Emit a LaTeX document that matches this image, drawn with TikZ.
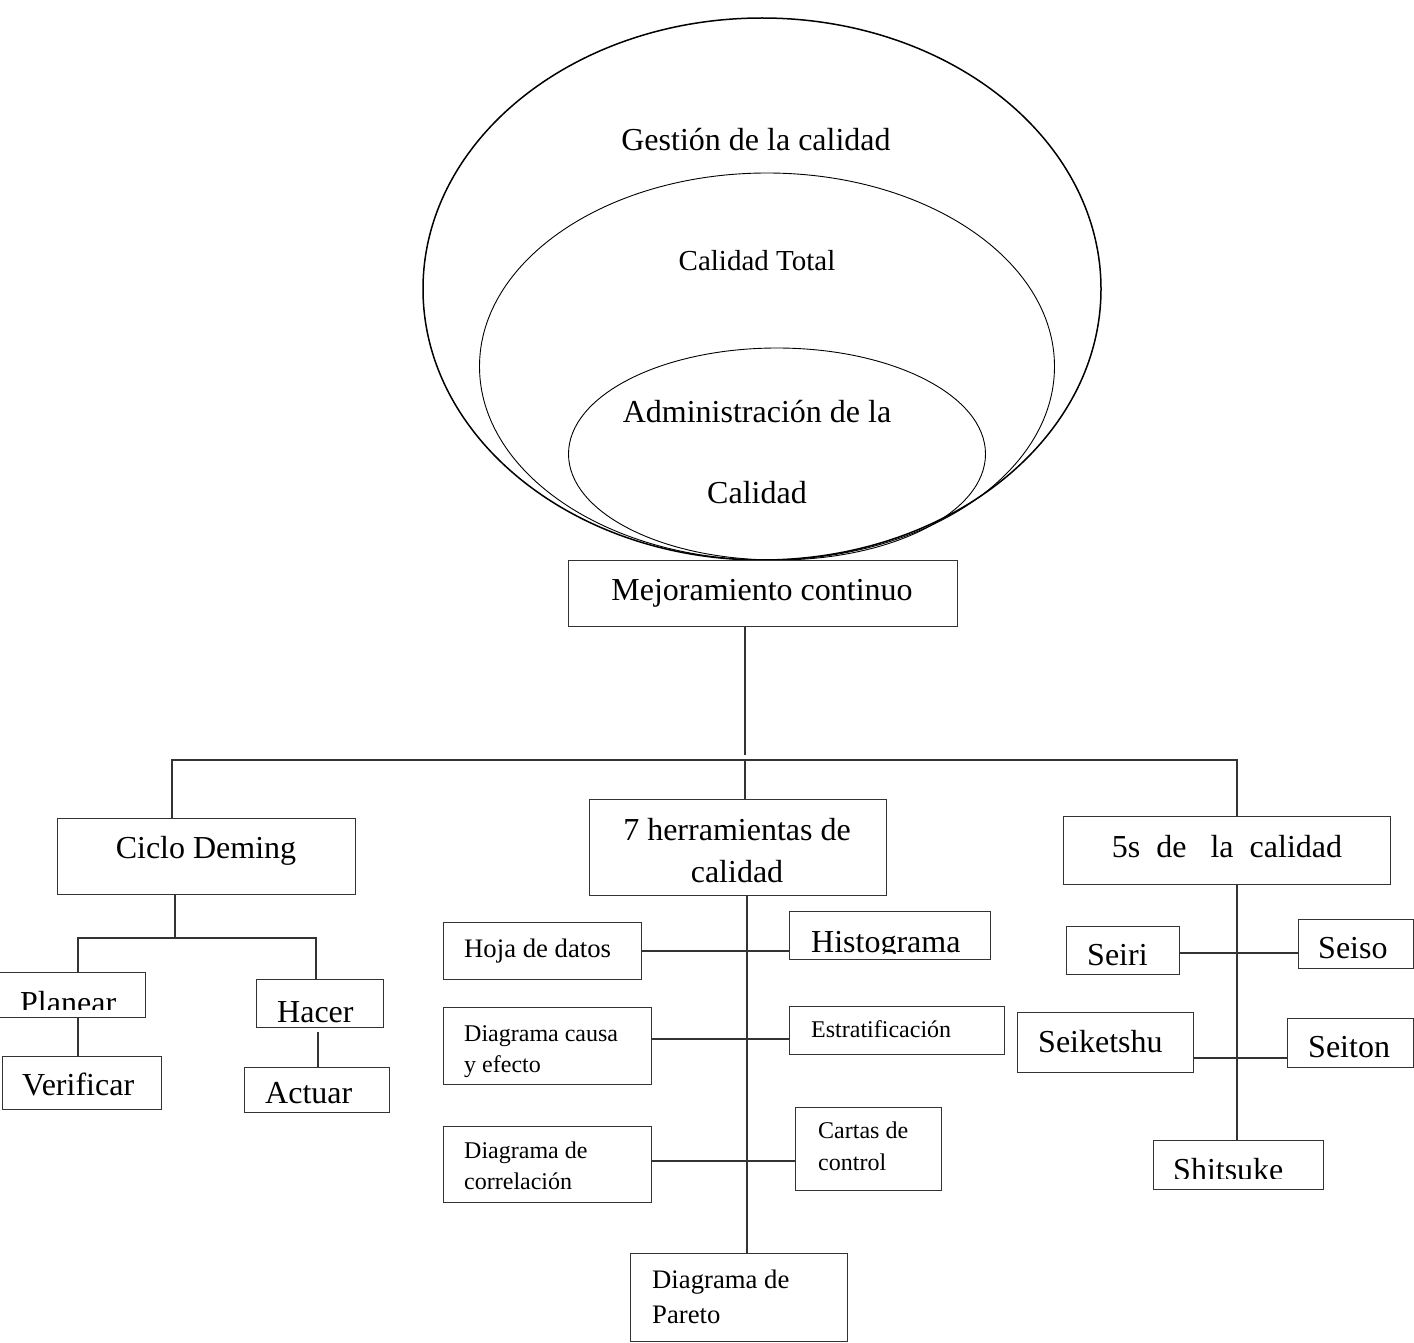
\documentclass[tikz,border=0pt]{standalone}
\usepackage{fontspec}
\setmainfont{Liberation Serif}
\usetikzlibrary{shapes.geometric}
\begin{document}
\begin{tikzpicture}[x=1pt,y=-1pt,
  box/.style={draw=black!80, line width=1.1pt, inner sep=0pt, anchor=north west},
  wire/.style={draw=black!80, line width=1.1pt},
  oval/.style={draw=black, ellipse, inner sep=0pt},
  big/.style={font=\fontsize{32}{38}\selectfont, inner sep=0pt, anchor=base},
  bigl/.style={font=\fontsize{32}{38}\selectfont, inner sep=0pt, anchor=base west},
  midl/.style={font=\fontsize{26.7}{32}\selectfont, inner sep=0pt, anchor=base west},
  smalll/.style={font=\fontsize{24}{30}\selectfont, inner sep=0pt, anchor=base west},
]
\useasboundingbox (0,0) rectangle (1414,1343);
\fill[white] (0,0) rectangle (1414,1343);

% nested ovals
\node[oval, line width=1.5pt, minimum width=678pt, minimum height=542pt] (gestion) at (762,289) {};
\node[oval, line width=0.9pt, minimum width=575pt, minimum height=387pt] (total) at (767,366.5) {};
\node[oval, line width=0.9pt, minimum width=417pt, minimum height=212pt] (admin) at (777,454) {};
\node[big] (tgestion) at (756,151) {Gestión de la calidad};
\node[big, font=\fontsize{29}{34}\selectfont] (ttotal) at (757,270) {Calidad Total};
\node[big] (tadmin1) at (757,422) {Administración de la};
\node[big] (tadmin2) at (757,503) {Calidad};

% boxes
\node[box, minimum width=389pt, minimum height=66pt] (mejora) at (568,560) {};
\node[big] (tmejora) at (762,600) {Mejoramiento continuo};

\node[box, minimum width=298pt, minimum height=76pt] (deming) at (57,818) {};
\node[big] (tdeming) at (206,858) {Ciclo Deming};
\node[box, minimum width=150pt, minimum height=45pt] (planear) at (-5,972) {};
\begin{scope}
  \clip (0,960) rectangle (145,1009);
  \node[bigl] (tplanear) at (20,1013) {Planear};
\end{scope}
\node[box, minimum width=159pt, minimum height=53pt] (verificar) at (2,1056) {};
\node[bigl] (tverificar) at (22,1095) {Verificar};
\node[box, minimum width=127pt, minimum height=48pt] (hacer) at (256,979) {};
\node[bigl] (thacer) at (277,1022) {Hacer};
\node[box, minimum width=145pt, minimum height=45pt] (actuar) at (244,1067) {};
\node[bigl] (tactuar) at (265,1103) {Actuar};

\node[box, minimum width=297pt, minimum height=96pt] (herr) at (589,799) {};
\node[big] (therr1) at (737,840) {7 herramientas de};
\node[big] (therr2) at (737,882) {calidad};
\node[box, minimum width=198pt, minimum height=57pt] (hoja) at (443,922) {};
\node[midl] (thoja) at (464,957) {Hoja de datos};
\node[box, minimum width=201pt, minimum height=48pt] (histo) at (789,911) {};
\begin{scope}
  \clip (790,912) rectangle (989,953);
  \node[bigl] (thisto) at (811,952) {Histograma};
\end{scope}
\node[box, minimum width=208pt, minimum height=77pt] (causa) at (443,1007) {};
\node[smalll] (tcausa1) at (464,1041) {Diagrama causa};
\node[smalll] (tcausa2) at (464,1072) {y efecto};
\node[box, minimum width=215pt, minimum height=48pt] (estrat) at (789,1006) {};
\node[smalll] (testrat) at (811,1037) {Estratificación};
\node[box, minimum width=208pt, minimum height=76pt] (correl) at (443,1126) {};
\node[smalll] (tcorrel1) at (464,1158) {Diagrama de};
\node[smalll] (tcorrel2) at (464,1189) {correlación};
\node[box, minimum width=146pt, minimum height=83pt] (cartas) at (795,1107) {};
\node[smalll] (tcartas1) at (818,1138) {Cartas de};
\node[smalll] (tcartas2) at (818,1170) {control};
\node[box, minimum width=217pt, minimum height=88pt] (pareto) at (630,1253) {};
\node[midl] (tpareto1) at (652,1288) {Diagrama de};
\node[midl] (tpareto2) at (652,1323) {Pareto};

\node[box, minimum width=327pt, minimum height=68pt] (cinco) at (1063,816) {};
\node[big] (tcinco) at (1227,857) {5s\ \ de\ \ \ la\ \ calidad};
\node[box, minimum width=113pt, minimum height=48pt] (seiri) at (1066,926) {};
\node[bigl] (tseiri) at (1087,965) {Seiri};
\node[box, minimum width=115pt, minimum height=49pt] (seiso) at (1298,919) {};
\node[bigl] (tseiso) at (1318,958) {Seiso};
\node[box, minimum width=176pt, minimum height=60pt] (seiketshu) at (1017,1012) {};
\node[bigl] (tseiketshu) at (1038,1052) {Seiketshu};
\node[box, minimum width=126pt, minimum height=49pt] (seiton) at (1287,1018) {};
\node[bigl] (tseiton) at (1308,1057) {Seiton};
\node[box, minimum width=170pt, minimum height=49pt] (shitsuke) at (1153,1140) {};
\begin{scope}
  \clip (1154,1141) rectangle (1322,1178);
  \node[bigl] (tshitsuke) at (1173,1180) {Shitsuke};
\end{scope}

% connector junctions
\coordinate (t0) at (745,755);
\coordinate (busL) at (172,760);
\coordinate (busR) at (1237,760);
\coordinate (hs) at (747,0);
\coordinate (r1) at (0,951);
\coordinate (r2) at (0,1039);
\coordinate (r3) at (0,1161);
\coordinate (q1) at (0,953);
\coordinate (q2) at (0,1058);
\coordinate (d0) at (175,938);
\coordinate (dL) at (78,938);
\coordinate (dR) at (316,938);
\coordinate (hx) at (318,1032);

% main trunk and bus
\draw[wire] (t0 |- mejora.south) -- (t0);
\draw[wire] (busL |- deming.north) -- (busL) -- (busR) -- (busR |- cinco.north);
\draw[wire] (t0 |- busL) -- (t0 |- herr.north);

% Deming cycle
\draw[wire] (d0 |- deming.south) -- (d0);
\draw[wire] (dL |- planear.north) -- (dL) -- (dR) -- (dR |- hacer.north);
\draw[wire] (dL |- planear.south) -- (dL |- verificar.north);
\draw[wire] (hx) -- (hx |- actuar.north);

% seven tools
\draw[wire] (hs |- herr.south) -- (hs |- pareto.north);
\draw[wire] (hoja.east |- r1) -- (histo.west |- r1);
\draw[wire] (causa.east |- r2) -- (estrat.west |- r2);
\draw[wire] (correl.east |- r3) -- (cartas.west |- r3);

% 5s
\draw[wire] (busR |- cinco.south) -- (busR |- shitsuke.north);
\draw[wire] (seiri.east |- q1) -- (seiso.west |- q1);
\draw[wire] (seiketshu.east |- q2) -- (seiton.west |- q2);
\end{tikzpicture}
\end{document}
